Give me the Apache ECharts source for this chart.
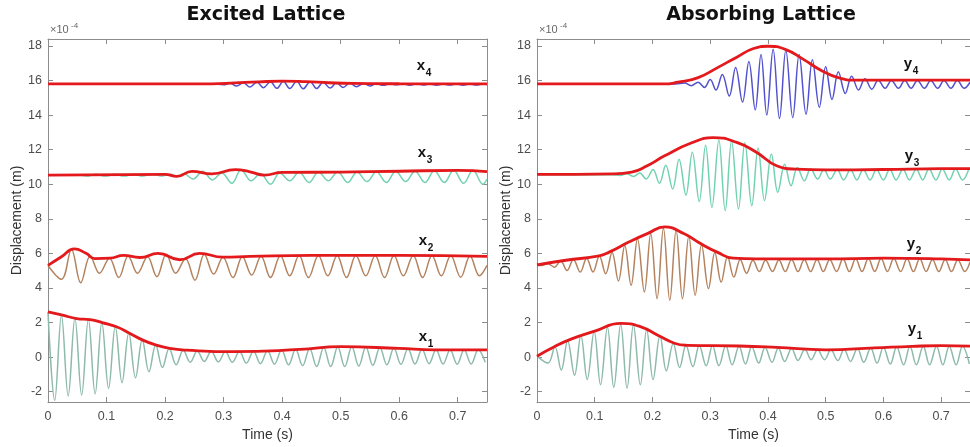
<!DOCTYPE html>
<html>
<head>
<meta charset="utf-8">
<script src="https://cdn.jsdelivr.net/npm/echarts@6/dist/echarts.min.js"></script>
<style>html,body{margin:0;padding:0;background:#fff}#c{width:970px;height:447px}</style>
</head>
<body>
<div id="c"></div>
<script>
// ---------- axes ----------
const xTicks = [0, 0.1, 0.2, 0.3, 0.4, 0.5, 0.6, 0.7];
const yTicks = [-2, 0, 2, 4, 6, 8, 10, 12, 14, 16, 18];
const panelTitles = ['Excited Lattice', 'Absorbing Lattice'];

// ---------- Excited lattice (extrema of each trace) ----------
const x1Time = [0,0.0115,0.023,0.0345,0.046,0.0575,0.069,0.0805,0.092,0.1035,0.115,0.1265,0.138,0.1495,0.161,0.1725,0.184,0.1955,0.207,0.219,0.231,0.243,0.255,0.267,0.279,0.291,0.303,0.315,0.327,0.339,0.351,0.363,0.375,0.387,0.399,0.411,0.423,0.435,0.447,0.459,0.471,0.483,0.495,0.507,0.519,0.531,0.543,0.555,0.567,0.579,0.591,0.603,0.615,0.627,0.639,0.651,0.663,0.675,0.687,0.699,0.711,0.723,0.735,0.747];
const x1Disp = [2.6,-2.5,2.42,-2.25,2.25,-2.2,2.18,-2.13,2.0,-1.8,1.77,-1.48,1.4,-1.2,1.0,-0.85,0.7,-0.6,0.5,-0.45,0.4,-0.3,0.35,-0.25,0.33,-0.28,0.32,-0.3,0.32,-0.35,0.34,-0.38,0.37,-0.4,0.41,-0.45,0.45,-0.5,0.5,-0.55,0.55,-0.55,0.58,-0.55,0.6,-0.52,0.58,-0.48,0.55,-0.45,0.52,-0.42,0.48,-0.4,0.45,-0.38,0.42,-0.4,0.42,-0.42,0.42,-0.4,0.42,-0.3];
const x1EnvTime = [0,0.025,0.049,0.072,0.094,0.117,0.14,0.162,0.185,0.208,0.237,0.316,0.43,0.5,0.6,0.66,0.75];
const x1Env = [2.61,2.42,2.23,2.17,1.98,1.75,1.37,0.98,0.69,0.5,0.4,0.31,0.44,0.6,0.5,0.42,0.42];

const x2Time = [0,0.023,0.04,0.056,0.072,0.088,0.105,0.121,0.137,0.153,0.170,0.186,0.202,0.218,0.235,0.251,0.267,0.283,0.299,0.316,0.332,0.348,0.364,0.380,0.397,0.413,0.429,0.445,0.462,0.478,0.494,0.510,0.526,0.543,0.559,0.575,0.591,0.607,0.624,0.640,0.656,0.672,0.688,0.705,0.721,0.737,0.75];
const x2Disp = [5.3,4.5,6.22,4.3,5.85,4.85,5.72,4.6,5.85,4.85,5.8,4.65,5.95,4.85,5.68,4.45,5.95,4.8,5.78,4.6,5.8,4.75,5.83,4.6,5.86,4.7,5.87,4.6,5.88,4.7,5.88,4.6,5.88,4.7,5.88,4.6,5.88,4.7,5.88,4.6,5.88,4.7,5.88,4.62,5.85,4.7,5.3];
const x2EnvTime = [0,0.023,0.045,0.065,0.08,0.106,0.129,0.157,0.188,0.225,0.259,0.299,0.345,0.45,0.6,0.75];
const x2Env = [5.3,5.8,6.26,6.0,5.7,5.72,5.88,5.76,6.0,5.63,6.0,5.78,5.82,5.88,5.88,5.82];

const x3Time = [0,0.05,0.066,0.082,0.098,0.114,0.13,0.146,0.162,0.178,0.194,0.21,0.22,0.232,0.248,0.264,0.281,0.297,0.314,0.330,0.347,0.363,0.380,0.396,0.413,0.429,0.446,0.462,0.479,0.495,0.512,0.528,0.545,0.561,0.578,0.594,0.611,0.627,0.644,0.660,0.677,0.693,0.710,0.726,0.743,0.75];
const x3Disp = [10.55,10.55,10.47,10.57,10.47,10.57,10.47,10.57,10.47,10.58,10.47,10.58,10.45,10.6,10.3,10.75,10.25,10.65,10.05,10.84,10.2,10.6,10.0,10.65,10.2,10.7,10.1,10.7,10.2,10.72,10.1,10.7,10.15,10.72,10.1,10.75,10.15,10.75,10.1,10.78,10.1,10.8,10.05,10.8,10.0,10.3];
const x3EnvTime = [0,0.2,0.22,0.246,0.28,0.32,0.345,0.37,0.4,0.5,0.6,0.7,0.75];
const x3Env = [10.53,10.57,10.45,10.74,10.6,10.84,10.72,10.53,10.68,10.7,10.75,10.8,10.73];

const x4Time = [0,0.28,0.30,0.311,0.322,0.334,0.345,0.357,0.368,0.380,0.391,0.402,0.413,0.425,0.436,0.448,0.459,0.470,0.482,0.493,0.504,0.516,0.527,0.539,0.550,0.561,0.573,0.584,0.595,0.607,0.618,0.630,0.641,0.652,0.664,0.675,0.686,0.698,0.709,0.721,0.732,0.743,0.75];
const x4Disp = [15.8,15.8,15.75,15.84,15.68,15.87,15.62,15.9,15.58,15.93,15.55,15.95,15.53,15.95,15.52,15.93,15.53,15.9,15.56,15.87,15.6,15.85,15.64,15.83,15.68,15.82,15.72,15.82,15.75,15.81,15.72,15.81,15.74,15.8,15.72,15.8,15.74,15.8,15.72,15.8,15.74,15.8,15.76];
const x4EnvTime = [0,0.28,0.32,0.36,0.4,0.44,0.48,0.52,0.6,0.75];
const x4Env = [15.8,15.8,15.86,15.92,15.96,15.93,15.87,15.83,15.81,15.8];

// ---------- Absorbing lattice ----------
const y1Time = [0,0.019,0.031,0.042,0.053,0.065,0.076,0.087,0.099,0.110,0.122,0.133,0.145,0.156,0.167,0.179,0.190,0.201,0.213,0.224,0.236,0.247,0.258,0.270,0.281,0.293,0.304,0.315,0.327,0.338,0.350,0.361,0.372,0.384,0.395,0.407,0.418,0.429,0.441,0.452,0.464,0.475,0.486,0.498,0.509,0.521,0.532,0.543,0.555,0.566,0.578,0.589,0.600,0.612,0.623,0.635,0.646,0.657,0.669,0.680,0.692,0.703,0.714,0.726,0.737,0.749];
const y1Disp = [0.05,-0.35,0.6,-0.75,0.95,-1.05,1.25,-1.3,1.5,-1.6,1.72,-1.75,1.9,-1.8,1.85,-1.6,1.6,-1.3,1.25,-0.8,0.8,-0.6,0.68,-0.55,0.67,-0.5,0.66,-0.5,0.65,-0.45,0.62,-0.4,0.6,-0.35,0.57,-0.3,0.53,-0.25,0.5,-0.2,0.45,-0.15,0.42,-0.15,0.42,-0.2,0.45,-0.25,0.5,-0.3,0.53,-0.35,0.57,-0.4,0.6,-0.45,0.62,-0.45,0.63,-0.45,0.63,-0.45,0.63,-0.45,0.63,-0.4];
const y1EnvTime = [0,0.03,0.06,0.1,0.145,0.18,0.21,0.238,0.26,0.35,0.415,0.5,0.585,0.65,0.7,0.75];
const y1Env = [0.05,0.6,1.05,1.5,1.95,1.75,1.25,0.8,0.68,0.64,0.56,0.42,0.53,0.62,0.66,0.63];

const y2Time = [0,0.008,0.019,0.030,0.041,0.052,0.063,0.075,0.086,0.097,0.108,0.119,0.130,0.141,0.152,0.163,0.174,0.186,0.197,0.208,0.219,0.230,0.241,0.252,0.263,0.274,0.285,0.297,0.308,0.319,0.330,0.341,0.352,0.363,0.374,0.385,0.396,0.408,0.419,0.430,0.441,0.452,0.463,0.474,0.485,0.496,0.507,0.519,0.530,0.541,0.552,0.563,0.574,0.585,0.596,0.607,0.618,0.630,0.641,0.652,0.663,0.674,0.685,0.696,0.707,0.718,0.729,0.741,0.75];
const y2Disp = [5.3,5.3,5.4,5.2,5.55,5.01,5.65,4.92,5.72,4.92,5.85,4.82,6.05,4.4,6.45,4.15,6.85,3.77,7.15,3.38,7.45,3.29,7.35,3.38,7.0,3.58,6.5,3.96,6.05,4.34,5.8,4.63,5.65,4.85,5.6,4.95,5.6,4.95,5.62,4.95,5.65,4.95,5.65,4.95,5.65,4.95,5.65,4.95,5.68,4.95,5.68,4.95,5.7,4.95,5.7,4.95,5.7,4.95,5.68,4.95,5.68,4.95,5.65,4.95,5.65,4.95,5.62,4.95,5.5];
const y2EnvTime = [0,0.05,0.1075,0.125,0.159,0.193,0.221,0.255,0.284,0.312,0.34,0.38,0.5,0.6,0.7,0.75];
const y2Env = [5.33,5.6,5.85,6.07,6.65,7.17,7.53,7.13,6.55,6.07,5.72,5.68,5.68,5.72,5.68,5.62];

const y3Time = [0,0.13,0.144,0.155,0.167,0.178,0.189,0.201,0.212,0.223,0.235,0.246,0.258,0.269,0.281,0.292,0.303,0.315,0.326,0.337,0.349,0.360,0.372,0.383,0.394,0.406,0.417,0.429,0.440,0.451,0.463,0.474,0.486,0.497,0.508,0.520,0.531,0.543,0.554,0.565,0.577,0.588,0.600,0.611,0.622,0.634,0.645,0.657,0.668,0.679,0.691,0.702,0.714,0.725,0.737,0.748];
const y3Disp = [10.55,10.55,10.5,10.6,10.45,10.65,10.3,10.85,10.05,11.1,9.72,11.45,9.37,11.85,9.0,12.25,8.66,12.55,8.47,12.5,8.57,12.4,8.76,12.1,9.05,11.75,9.53,11.15,9.91,10.97,10.2,10.9,10.3,10.85,10.3,10.85,10.25,10.85,10.25,10.85,10.25,10.85,10.25,10.87,10.25,10.87,10.25,10.87,10.25,10.88,10.25,10.88,10.25,10.88,10.25,10.88];
const y3EnvTime = [0,0.13,0.164,0.19,0.221,0.267,0.305,0.346,0.38,0.415,0.449,0.5,0.6,0.7,0.75];
const y3Env = [10.57,10.6,10.7,11.05,11.64,12.38,12.7,12.42,11.85,11.07,10.87,10.83,10.85,10.9,10.9];

const y4Time = [0,0.24,0.256,0.267,0.279,0.29,0.300,0.31,0.321,0.333,0.344,0.356,0.367,0.378,0.388,0.398,0.409,0.42,0.431,0.443,0.454,0.466,0.477,0.489,0.500,0.511,0.522,0.534,0.545,0.557,0.568,0.580,0.591,0.603,0.614,0.626,0.637,0.648,0.659,0.671,0.682,0.694,0.705,0.717,0.728,0.740,0.75];
const y4Disp = [15.8,15.8,15.85,15.7,15.9,15.6,16.05,15.45,16.35,15.1,16.75,14.75,17.1,14.3,17.5,14.0,17.8,13.8,17.75,13.85,17.5,14.05,17.2,14.45,16.8,14.9,16.5,15.25,16.25,15.45,16.1,15.5,16.02,15.55,16.0,15.55,16.0,15.55,16.0,15.55,16.0,15.55,16.0,15.55,16.0,15.55,15.9];
const y4EnvTime = [0,0.22,0.244,0.278,0.312,0.346,0.375,0.4,0.43,0.46,0.494,0.523,0.551,0.65,0.75];
const y4Env = [15.8,15.8,15.9,16.15,16.73,17.35,17.85,17.98,17.8,17.25,16.55,16.15,16.02,16.02,16.02];

const traceNames = ['x1','x2','x3','x4','y1','y2','y3','y4'];

// ---------- build ----------
const FONT = '"Liberation Sans", Arial, sans-serif';
const AX = '#8c8c8c', LBL = '#4d4d4d', RED = '#e3191c';
const C1 = '#8dbaa9', C2 = '#b3825f', C3 = '#72d2b0', C4 = '#5252cf';

function pairs(t, v) { const n = Math.min(t.length, v.length), o = []; for (let i = 0; i < n; i++) o.push([t[i], v[i]]); return o; }

const GRID_L = [48, 537], GRID_W = 439, GRID_T = 39, GRID_H = 363;
const TITLE_X = [266, 761];

function xAx(g, pos) {
  return { type: 'value', gridIndex: g, position: pos, min: 0, max: 0.75,
    axisLine: { show: true, onZero: false, lineStyle: { color: AX, width: 1 } },
    axisTick: { show: true, inside: true, length: 5, lineStyle: { color: AX }, customValues: xTicks },
    axisLabel: { show: pos === 'bottom', customValues: xTicks, color: LBL, fontSize: 12.5, fontFamily: FONT, margin: 8 },
    splitLine: { show: false },
    name: pos === 'bottom' ? 'Time (s)' : '', nameLocation: 'middle', nameGap: 26,
    nameTextStyle: { color: '#333', fontSize: 14, fontFamily: FONT } };
}
function yAx(g, pos) {
  return { type: 'value', gridIndex: g, position: pos, min: -2.6, max: 18.4,
    axisLine: { show: true, onZero: false, lineStyle: { color: AX, width: 1 } },
    axisTick: { show: true, inside: true, length: 5, lineStyle: { color: AX }, customValues: yTicks },
    axisLabel: { show: pos === 'left', customValues: yTicks, color: LBL, fontSize: 12.5, fontFamily: FONT, margin: 6, formatter: v => String(v) },
    splitLine: { show: false },
    name: pos === 'left' ? 'Displacement (m)' : '', nameLocation: 'middle', nameGap: 22, nameRotate: 90,
    nameTextStyle: { color: '#333', fontSize: 14, fontFamily: FONT } };
}
function osc(t, v, color, g) {
  return { type: 'line', xAxisIndex: g * 2, yAxisIndex: g * 2, data: pairs(t, v), smooth: 0.38,
    showSymbol: false, symbol: 'none', lineStyle: { color, width: 1.5 }, z: 2, silent: true, animation: false };
}
function env(t, v, g) {
  return { type: 'line', xAxisIndex: g * 2, yAxisIndex: g * 2, data: pairs(t, v), smooth: 0.5,
    showSymbol: false, symbol: 'none', lineStyle: { color: RED, width: 2.8 }, z: 4, silent: true, animation: false };
}

const series = [
  osc(x1Time, x1Disp, C1, 0), osc(x2Time, x2Disp, C2, 0), osc(x3Time, x3Disp, C3, 0), osc(x4Time, x4Disp, C4, 0),
  osc(y1Time, y1Disp, C1, 1), osc(y2Time, y2Disp, C2, 1), osc(y3Time, y3Disp, C3, 1), osc(y4Time, y4Disp, C4, 1),
  env(x1EnvTime, x1Env, 0), env(x2EnvTime, x2Env, 0), env(x3EnvTime, x3Env, 0), env(x4EnvTime, x4Env, 0),
  env(y1EnvTime, y1Env, 1), env(y2EnvTime, y2Env, 1), env(y3EnvTime, y3Env, 1), env(y4EnvTime, y4Env, 1)
];

// trace labels: [letter center x, center y]
const labelPos = [[423, 337], [423, 241], [422, 153], [421, 66], [912, 329], [911, 244], [909, 156], [908, 64]];
const graphic = [];
traceNames.forEach((nm, i) => {
  const p = labelPos[i];
  graphic.push({ type: 'text', x: p[0], y: p[1], silent: true,
    style: { text: nm[0], font: 'bold 15px ' + FONT, fill: '#111', align: 'center', verticalAlign: 'middle' } });
  graphic.push({ type: 'text', x: p[0] + 7.5, y: p[1] + 7, silent: true,
    style: { text: nm[1], font: 'bold 10px ' + FONT, fill: '#111', align: 'center', verticalAlign: 'middle' } });
});
panelTitles.forEach((t, i) => {
  graphic.push({ type: 'text', x: TITLE_X[i], y: 15, silent: true,
    style: { text: t, font: 'bold 19px "DejaVu Sans", Verdana, sans-serif', fill: '#111', align: 'center', verticalAlign: 'middle' } });
  graphic.push({ type: 'text', x: GRID_L[i] + 2, y: 30, silent: true,
    style: { text: '\u00d710', font: '11px ' + FONT, fill: '#666', align: 'left', verticalAlign: 'middle' } });
  graphic.push({ type: 'text', x: GRID_L[i] + 23, y: 26, silent: true,
    style: { text: '-4', font: '8px ' + FONT, fill: '#666', align: 'left', verticalAlign: 'middle' } });
});

const chart = echarts.init(document.getElementById('c'), null, { renderer: 'canvas' });
chart.setOption({
  animation: false,
  backgroundColor: '#fff',
  grid: GRID_L.map(l => ({ left: l, top: GRID_T, width: GRID_W, height: GRID_H, containLabel: false })),
  xAxis: [xAx(0, 'bottom'), xAx(0, 'top'), xAx(1, 'bottom'), xAx(1, 'top')],
  yAxis: [yAx(0, 'left'), yAx(0, 'right'), yAx(1, 'left'), yAx(1, 'right')],
  series,
  graphic
});
</script>
</body>
</html>
